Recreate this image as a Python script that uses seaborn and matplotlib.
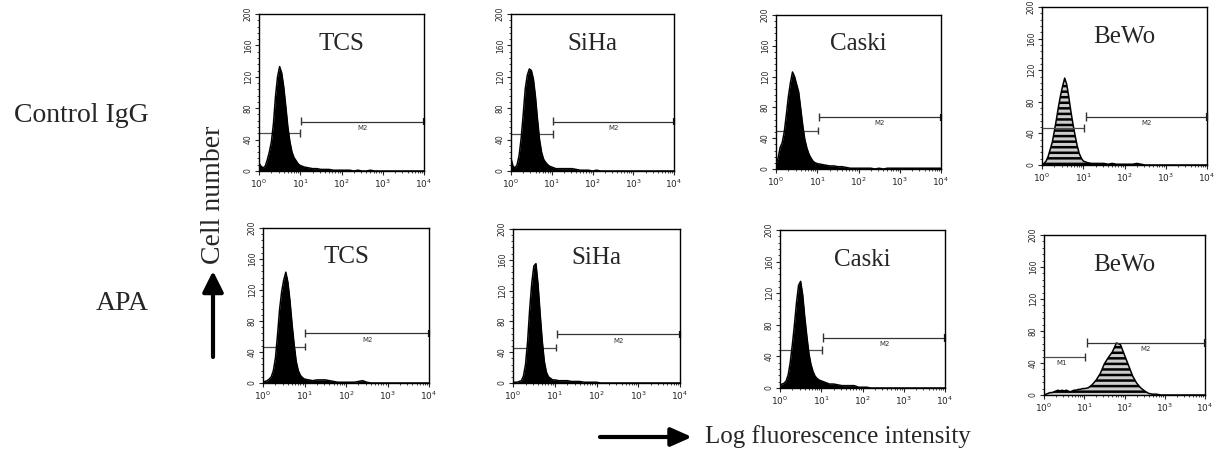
import numpy as np
import pandas as pd
import matplotlib
matplotlib.use("Agg")
import matplotlib.pyplot as plt
import matplotlib.patches as mpatches
from matplotlib.ticker import LogLocator, MultipleLocator, NullFormatter, FixedLocator, FixedFormatter
import seaborn as sns

sns.set_style("ticks")
plt.rcParams['font.family'] = ['DejaVu Sans']
plt.rcParams['hatch.linewidth'] = 1.8

# ---------------- data ----------------
# channel positions (log10 of fluorescence intensity)
LOG_CHANNEL = [0.00, 0.05, 0.10, 0.15, 0.20, 0.25, 0.30, 0.35, 0.40, 0.45, 0.50,
               0.55, 0.60, 0.65, 0.70, 0.75, 0.80, 0.85, 0.90, 0.95, 1.00,
               1.1, 1.2, 1.3, 1.4, 1.5, 1.6, 1.7, 1.8, 1.9, 2.0,
               2.1, 2.2, 2.3, 2.4, 2.5, 2.6, 2.7, 2.8, 2.9, 3.0,
               3.2, 3.4, 3.6, 3.8, 4.0]

cells = ["TCS", "SiHa", "Caski", "BeWo"]
rows = ["Control IgG", "APA"]

TCS_CTRL = [10, 6, 4, 6, 14, 24, 37, 60, 95, 120, 133, 125, 107, 82, 56, 37, 24, 17, 13, 9, 7,
            5, 4, 3, 3, 2, 2, 2, 1, 1, 1, 1, 1, 0, 1, 0, 0, 1, 0, 0, 0,
            0, 0, 0, 0, 0]
SIHA_CTRL = [16, 6, 4, 8, 20, 42, 72, 105, 122, 130, 128, 117, 95, 66, 40, 24, 15, 11, 8, 6, 5,
             3, 3, 3, 3, 3, 2, 1, 1, 1, 0, 1, 0, 0, 0, 0, 0, 0, 0, 0, 0,
             0, 0, 0, 0, 0]
CASKI_CTRL = [6, 14, 28, 34, 48, 70, 94, 112, 126, 120, 110, 100, 78, 56, 38, 27, 19, 14, 10, 8, 7,
              6, 5, 4, 4, 3, 3, 2, 1, 1, 1, 1, 1, 1, 0, 1, 0, 1, 1, 1, 1,
              1, 1, 1, 1, 1]
BEWO_CTRL = [1, 2, 5, 11, 20, 29, 43, 58, 74, 88, 100, 110, 102, 86, 68, 52, 38, 25, 15, 9, 5,
             3, 2, 2, 2, 2, 1, 2, 1, 1, 1, 1, 1, 2, 1, 0, 0, 0, 0, 0, 0,
             0, 0, 0, 0, 0]
TCS_APA = [1, 2, 3, 5, 8, 16, 32, 62, 95, 118, 133, 143, 130, 106, 76, 50, 28, 16, 10, 7, 5,
           4, 3, 4, 4, 4, 3, 2, 1, 1, 1, 1, 1, 2, 3, 1, 0, 0, 0, 0, 0,
           0, 0, 0, 0, 0]
SIHA_APA = [1, 1, 1, 2, 3, 9, 24, 54, 96, 130, 152, 155, 128, 90, 55, 28, 14, 8, 6, 4, 4,
            3, 3, 3, 2, 2, 2, 1, 1, 1, 1, 0, 0, 0, 0, 0, 0, 0, 0, 0, 0,
            0, 0, 0, 0, 0]
CASKI_APA = [3, 5, 6, 9, 17, 33, 55, 80, 108, 130, 135, 118, 90, 66, 44, 30, 21, 15, 12, 10, 9,
             7, 5, 5, 4, 3, 3, 3, 3, 1, 1, 1, 0, 0, 0, 0, 0, 0, 0, 0, 0,
             0, 0, 0, 0, 0]
BEWO_APA = [0, 1, 2, 3, 3, 4, 5, 6, 5, 6, 5, 6, 5, 4, 5, 6, 6, 7, 7, 8, 8,
            9, 13, 19, 27, 39, 47, 54, 65, 63, 50, 37, 24, 15, 9, 5, 2, 1, 1, 0, 0,
            0, 0, 0, 0, 0]

COUNTS = [TCS_CTRL, SIHA_CTRL, CASKI_CTRL, BEWO_CTRL,
          TCS_APA, SIHA_APA, CASKI_APA, BEWO_APA]

# marker gates (log10 of end / start) and heights (cell count)
M1_END = [0.99, 1.03, 1.03, 1.02, 1.00, 1.04, 1.01, 1.02]
M1_Y = [48, 47, 50, 47, 47, 46, 48, 48]
M2_START = [1.03, 1.04, 1.04, 1.06, 1.02, 1.05, 1.05, 1.06]
M2_Y = [63, 63, 67, 61, 64, 63, 63, 65]

X_TICKS = [1, 10, 100, 1000, 10000]
X_TICK_LABELS = ["$10^{0}$", "$10^{1}$", "$10^{2}$", "$10^{3}$", "$10^{4}$"]
Y_TICKS = [0, 40, 80, 120, 160, 200]

# ---------------- layout ----------------
W, H = 1215, 455
BOXES = [(259, 14, 424, 171), (511, 14, 674, 171), (776, 15, 941, 169), (1042, 7, 1207, 165),
         (263, 228, 429, 383), (513, 229, 680, 383), (780, 230, 945, 388), (1044, 235, 1205, 395)]

SERIF = ['Liberation Serif', 'DejaVu Serif']

fig = plt.figure(figsize=(W / 100, H / 100), dpi=100)

x_int = 10 ** np.array(LOG_CHANNEL)

for i, (l, t, r, b) in enumerate(BOXES):
    ax = fig.add_axes([l / W, 1 - b / H, (r - l) / W, (b - t) / H])
    name = cells[i % 4]
    y = np.array(COUNTS[i], dtype=float)
    df = pd.DataFrame({"intensity": x_int, "count": y})
    striped = (name == "BeWo")

    # gates
    m1e = 10 ** M1_END[i]
    m2s = 10 ** M2_START[i]
    zgate = 4 if striped else 1
    ax.hlines(M1_Y[i], 1, m1e, color='0.3', lw=0.9, zorder=zgate)
    ax.vlines(m1e, M1_Y[i] - 5, M1_Y[i] + 5, color='0.2', lw=1.0, zorder=zgate)
    ax.hlines(M2_Y[i], m2s, 1e4, color='0.2', lw=0.9, zorder=zgate)
    ax.vlines(m2s, M2_Y[i] - 5, M2_Y[i] + 6, color='0.2', lw=1.0, zorder=zgate)
    ax.vlines(1e4, M2_Y[i] - 5, M2_Y[i] + 5, color='0.1', lw=1.6, zorder=zgate, clip_on=False)
    ax.text(10 ** ((M2_START[i] + 4) / 2), M2_Y[i] - 4, "M2", fontsize=5,
            ha='center', va='top', color='0.2', zorder=zgate)
    ax.text(10 ** 0.45, M1_Y[i] - 4, "M1", fontsize=5, ha='center', va='top',
            color='0.2', zorder=1)

    # histogram
    if striped:
        ax.fill_between(df["intensity"], df["count"], facecolor='0.8', edgecolor='black',
                        hatch='---', lw=0.0, zorder=2)
    else:
        ax.fill_between(df["intensity"], df["count"], color='black', lw=0, zorder=2)
    sns.lineplot(data=df, x="intensity", y="count", ax=ax, color='black', lw=1.1, zorder=3)

    ax.set_xscale('log')
    ax.set_xlim(1, 1e4)
    ax.set_ylim(0, 200)
    ax.set_xlabel("")
    ax.set_ylabel("")
    ax.xaxis.set_major_locator(FixedLocator(X_TICKS))
    ax.xaxis.set_major_formatter(FixedFormatter(X_TICK_LABELS))
    ax.xaxis.set_minor_locator(LogLocator(base=10, subs=np.arange(2, 10), numticks=20))
    ax.xaxis.set_minor_formatter(NullFormatter())
    ax.yaxis.set_major_locator(FixedLocator(Y_TICKS))
    ax.yaxis.set_minor_locator(MultipleLocator(8))
    ax.tick_params(axis='both', which='major', direction='out', length=3, width=0.8,
                   labelsize=6.5, pad=1.5)
    ax.tick_params(axis='both', which='minor', direction='out', length=1.5, width=0.6)
    ax.tick_params(axis='y', labelrotation=90, labelsize=5.5)
    for lab in ax.get_yticklabels():
        lab.set_va('center')
    for sp in ax.spines.values():
        sp.set_linewidth(1.0)
        sp.set_color('black')
    ax.text(0.5, 0.81, name, transform=ax.transAxes, ha='center', va='center',
            fontsize=18, family=SERIF)

# row labels
fig.text(149 / W, 1 - 115 / H, rows[0], ha='right', va='center', fontsize=20, family=SERIF)
fig.text(149 / W, 1 - 303 / H, rows[1], ha='right', va='center', fontsize=20, family=SERIF)

# axis titles with arrows
fig.text(213 / W, 1 - 195 / H, "Cell number", rotation=90, ha='center', va='center',
         fontsize=20, family=SERIF)
fig.add_artist(mpatches.FancyArrowPatch((213 / W, 1 - 357 / H), (213 / W, 1 - 271 / H),
                                        transform=fig.transFigure,
                                        arrowstyle='-|>,head_length=0.9,head_width=0.45',
                                        mutation_scale=14, lw=3, color='black',
                                        shrinkA=0, shrinkB=0))
fig.add_artist(mpatches.FancyArrowPatch((600 / W, 1 - 437 / H), (692 / W, 1 - 437 / H),
                                        transform=fig.transFigure,
                                        arrowstyle='-|>,head_length=0.9,head_width=0.4',
                                        mutation_scale=14, lw=3, color='black',
                                        shrinkA=0, shrinkB=0))
fig.text(705 / W, 1 - 437 / H, "Log fluorescence intensity", ha='left', va='center',
         fontsize=18, family=SERIF)

fig.savefig("out.png", dpi=100)
